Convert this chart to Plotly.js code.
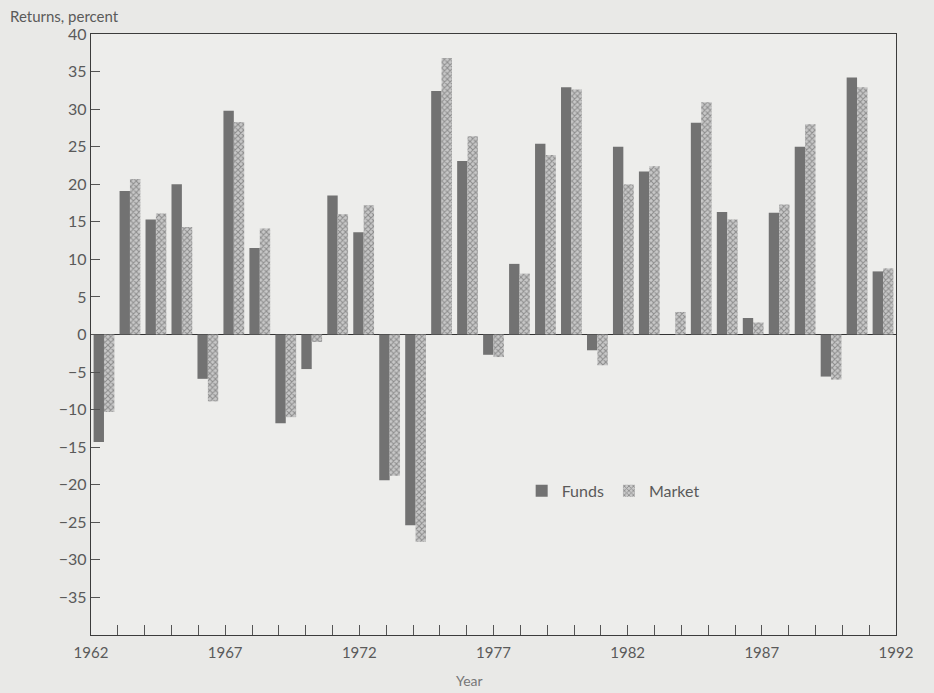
<!DOCTYPE html>
<html>
<head>
<meta charset="utf-8">
<script src="https://cdn.plot.ly/plotly-3.0.1.min.js"></script>
<style>
  html, body { margin: 0; padding: 0; background: #e9e9e7; }
  #chart { width: 934px; height: 693px; }
</style>
</head>
<body>
<div id="chart"></div>
<script>
// Years (categories), one pair of bars per year
const years = ["1962","1963","1964","1965","1966","1967","1968","1969","1970","1971",
               "1972","1973","1974","1975","1976","1977","1978","1979","1980","1981",
               "1982","1983","1984","1985","1986","1987","1988","1989","1990","1991","1992"];
// Returns, percent
const funds  = [-14.3, 19.1, 15.3, 20.0, -5.9, 29.8, 11.5, -11.8, -4.6, 18.5,
                13.6, -19.4, -25.4, 32.4, 23.1, -2.7, 9.4, 25.4, 32.9, -2.1,
                25.0, 21.7, 0.0, 28.2, 16.3, 2.2, 16.2, 25.0, -5.6, 34.2, 8.4];
const market = [-10.3, 20.7, 16.1, 14.3, -8.9, 28.3, 14.1, -11.0, -1.0, 16.0,
                17.2, -18.8, -27.6, 36.8, 26.4, -3.0, 8.1, 23.9, 32.6, -4.1,
                20.0, 22.4, 3.0, 30.9, 15.3, 1.6, 17.3, 28.0, -6.0, 32.9, 8.8];
// Axis ticks
const yTicks = [-35, -30, -25, -20, -15, -10, -5, 0, 5, 10, 15, 20, 25, 30, 35, 40];
const xLabelYears = [1962, 1967, 1972, 1977, 1982, 1987, 1992];

const textColor = "#5a5a5a";
const fontFam = "Lato, 'Open Sans', sans-serif";

const traces = [
  {
    type: "bar", name: "Funds", x: years, y: funds,
    marker: { color: "#727272", line: { width: 0 } },
    xaxis: "x", yaxis: "y"
  },
  {
    type: "bar", name: "Market", x: years, y: market,
    marker: {
      color: "#c4c4c4",
      line: { width: 0 },
      pattern: { shape: "x", size: 4, solidity: 0.45, fgcolor: "#8c8c8c", bgcolor: "#c8c8c8" }
    },
    xaxis: "x", yaxis: "y"
  },
  {
    // carrier for the year tick axis; draws nothing
    type: "scatter", mode: "none", x: xLabelYears, y: xLabelYears.map(() => null),
    xaxis: "x2", yaxis: "y", showlegend: false, hoverinfo: "skip"
  }
];

const layout = {
  width: 934, height: 693,
  margin: { l: 91, r: 38, t: 34, b: 58 },
  paper_bgcolor: "#e9e9e7",
  plot_bgcolor: "#ededeb",
  font: { family: fontFam, color: textColor, size: 16 },
  barmode: "group",
  bargap: 0.2,
  bargroupgap: 0,
  showlegend: true,
  legend: {
    orientation: "h",
    x: 0.535, y: 0.24, xanchor: "left", yanchor: "middle",
    bgcolor: "rgba(0,0,0,0)",
    font: { size: 16, color: textColor, family: fontFam },
    itemwidth: 30
  },
  xaxis: {
    type: "category",
    showticklabels: false,
    ticks: "",
    showgrid: false,
    showline: true, linecolor: "#3c3c3c", linewidth: 1.3, mirror: true,
    zeroline: false
  },
  xaxis2: {
    overlaying: "x",
    anchor: "y",
    side: "bottom",
    type: "linear",
    range: [1962, 1992],
    autorange: false,
    tickmode: "array",
    tickvals: xLabelYears,
    ticktext: xLabelYears.map(String),
    ticks: "inside", ticklen: 10, tickcolor: "#555", tickwidth: 1,
    minor: { dtick: 1, ticks: "inside", ticklen: 10, tickcolor: "#555", tickwidth: 1 },
    tickfont: { size: 15, color: textColor },
    ticklabelstandoff: 7,
    showgrid: false,
    showline: false,
    zeroline: false
  },
  yaxis: {
    range: [-40, 40],
    autorange: false,
    tickmode: "array",
    tickvals: yTicks,
    ticktext: yTicks.map(v => v < 0 ? "\u2212" + Math.abs(v) : String(v)),
    ticks: "inside", ticklen: 9, tickcolor: "#555",
    tickfont: { size: 16, color: textColor },
    showgrid: false,
    showline: true, linecolor: "#3c3c3c", linewidth: 1.3, mirror: true,
    zeroline: true, zerolinecolor: "#333", zerolinewidth: 1.5
  },
  annotations: [
    {
      text: "Year", xref: "paper", yref: "paper",
      x: 0.47, y: -0.058, xanchor: "center", yanchor: "top",
      showarrow: false, font: { size: 14, color: "#777" }
    },
    {
      text: "Returns, percent", xref: "paper", yref: "paper",
      x: -0.103, y: 1.012, xanchor: "left", yanchor: "bottom",
      showarrow: false, font: { size: 15, color: textColor }
    }
  ]
};

Plotly.newPlot("chart", traces, layout, { displayModeBar: false, staticPlot: true });
</script>
</body>
</html>
